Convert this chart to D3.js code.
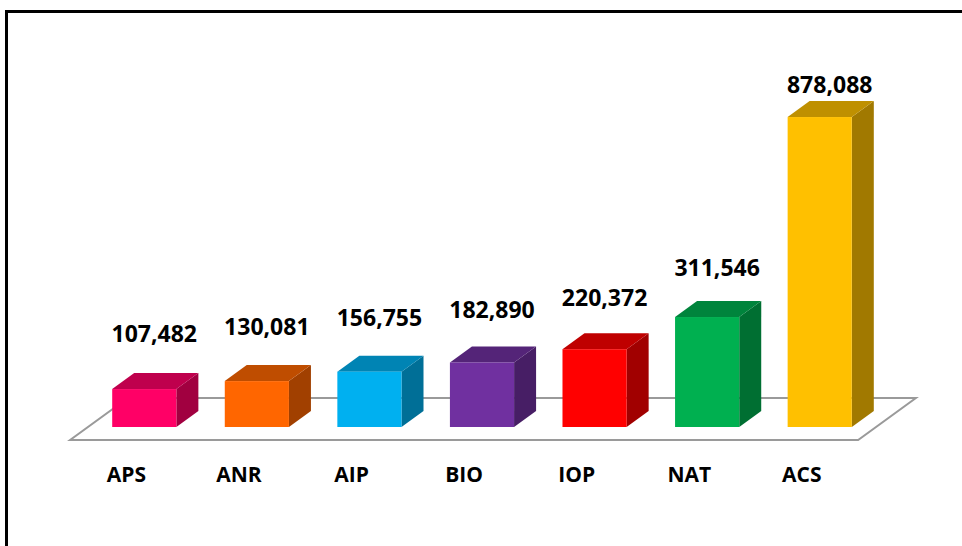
<!DOCTYPE html>
<html>
<head>
<meta charset="utf-8">
<script src="https://cdn.jsdelivr.net/npm/d3@7"></script>
<style>
  html, body { margin: 0; padding: 0; background: #ffffff; }
  svg { display: block; }
</style>
</head>
<body>
<svg id="chart" width="962" height="546"></svg>
<script>
// ---- data ----
const categories = ["APS", "ANR", "AIP", "BIO", "IOP", "NAT", "ACS"];
const values = [107482, 130081, 156755, 182890, 220372, 311546, 878088];
const colors = ["#FF0066", "#FF6600", "#00B0F0", "#7030A0", "#FF0000", "#00B050", "#FFC000"];

// ---- layout ----
const W = 962, H = 546;
const svg = d3.select("#chart");

// frame border
svg.append("rect")
  .attr("x", 6.5).attr("y", 11.5)
  .attr("width", 1200).attr("height", 800)
  .attr("fill", "#ffffff")
  .attr("stroke", "#000000").attr("stroke-width", 3);

const baseY = 427;          // front-plane bottom of bars
const ddx = 22, ddy = 16;   // bar depth offsets (oblique)
const ratio = ddx / ddy;
const floorMargin = 13;     // floor depth beyond bar depth (each side, in y)

const x = d3.scaleBand()
  .domain(categories)
  .range([88, 876])
  .paddingInner(0.43)
  .paddingOuter(0.215);

const y = d3.scaleLinear().domain([0, 1000000]).range([baseY, 74]);
const labelY = d3.scaleLinear().domain([0, 1000000]).range([369, 45]);

function shade(c, k) {
  const col = d3.rgb(c);
  return d3.rgb(col.r * k, col.g * k, col.b * k).formatHex();
}

// floor
const fFrontY = baseY + floorMargin;
const fBackY = baseY - ddy - floorMargin;
const fShiftF = floorMargin * ratio;
const fShiftB = (ddy + floorMargin) * ratio;
const x0 = x.range()[0], x1 = x.range()[1];
const floorPts = [
  [x0 - fShiftF, fFrontY],
  [x1 - fShiftF, fFrontY],
  [x1 + fShiftB, fBackY],
  [x0 + fShiftB, fBackY]
];
svg.append("polygon")
  .attr("points", floorPts.map(p => p.join(",")).join(" "))
  .attr("fill", "#ffffff")
  .attr("stroke", "#9A9A9A")
  .attr("stroke-width", 2)
  .attr("stroke-linejoin", "miter");

// bars
const data = categories.map((c, i) => ({ cat: c, v: values[i], col: colors[i] }));
const bw = x.bandwidth();
const g = svg.append("g");
data.forEach(d => {
  const xl = x(d.cat), xr = xl + bw, yt = y(d.v), yb = baseY;
  // side face
  g.append("polygon")
    .attr("points", [[xr, yb], [xr + ddx, yb - ddy], [xr + ddx, yt - ddy], [xr, yt]].map(p => p.join(",")).join(" "))
    .attr("fill", shade(d.col, 0.63));
  // top face
  g.append("polygon")
    .attr("points", [[xl, yt], [xl + ddx, yt - ddy], [xr + ddx, yt - ddy], [xr, yt]].map(p => p.join(",")).join(" "))
    .attr("fill", shade(d.col, 0.75));
  // front face
  g.append("rect")
    .attr("x", xl).attr("y", yt)
    .attr("width", bw).attr("height", yb - yt)
    .attr("fill", d.col);
});

// value labels
svg.append("g").selectAll("text")
  .data(data).enter().append("text")
  .attr("x", d => x(d.cat) + bw / 2 + 10)
  .attr("y", d => labelY(d.v))
  .attr("dy", "0.36em")
  .attr("text-anchor", "middle")
  .attr("font-family", "'Open Sans', sans-serif")
  .attr("font-weight", "bold")
  .attr("font-size", 23)
  .attr("fill", "#000000")
  .text(d => d3.format(",")(d.v));

// category labels
svg.append("g").selectAll("text")
  .data(data).enter().append("text")
  .attr("x", d => x(d.cat) + bw / 2 - fShiftF)
  .attr("y", 482)
  .attr("text-anchor", "middle")
  .attr("font-family", "'Open Sans', sans-serif")
  .attr("font-weight", "bold")
  .attr("font-size", 21)
  .attr("fill", "#000000")
  .text(d => d.cat);
</script>
</body>
</html>
